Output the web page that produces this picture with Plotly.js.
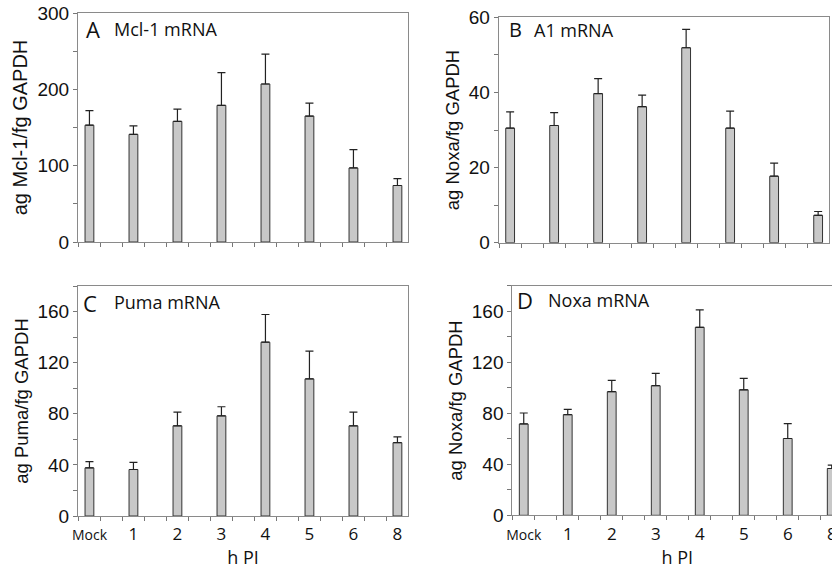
<!DOCTYPE html>
<html>
<head>
<meta charset="utf-8">
<script src="https://cdn.plot.ly/plotly-3.0.1.min.js"></script>
<style>
html,body{margin:0;padding:0;overflow:hidden;background:#fff;}
#chart{width:850px;height:569px;}
</style>
</head>
<body>
<div id="chart"></div>
<script>
// ---- data ----
var categories = ['Mock', '1', '2', '3', '4', '5', '6', '8'];
var mcl1 = [153, 141, 158, 179, 207, 165, 97, 74];
var mcl1Err = [19, 11, 16, 43, 39, 17, 24, 9];
var a1 = [30.5, 31.2, 39.7, 36.2, 51.9, 30.5, 17.7, 7.3];
var a1Err = [4.3, 3.4, 4.0, 3.1, 4.9, 4.5, 3.5, 1.0];
var puma = [37.7, 36.4, 70.6, 78.4, 136, 107.3, 70.6, 57.4];
var pumaErr = [4.9, 5.6, 10.7, 7.1, 21.7, 21.7, 10.7, 4.6];
var noxa = [71.6, 78.9, 96.9, 101.6, 147.4, 98.4, 60.2, 36.7];
var noxaErr = [8.6, 4.1, 8.8, 9.6, 13.6, 8.9, 11.7, 2.6];
var panelLetters = ['A', 'B', 'C', 'D'];
var panelNames = ['Mcl-1 mRNA', 'A1 mRNA', 'Puma mRNA', 'Noxa mRNA'];
var yTitles = ['ag Mcl-1/fg GAPDH', 'ag Noxa/fg GAPDH', 'ag Puma/fg GAPDH', 'ag Noxa/fg GAPDH'];
var xTitle = 'h PI';

var W = 850, H = 569;
var pos = categories.map(function(c, i){ return i; });
var tickText = categories.map(function(c){ return c === 'Mock' ? '<span style="font-size:14px">Mock</span>' : c; });

function barTrace(vals, errs, ax){
  return {
    type: 'bar', x: pos, y: vals, width: 0.2,
    xaxis: 'x' + ax, yaxis: 'y' + ax,
    marker: {color: '#c8c8c8', line: {color: '#333333', width: 1}},
    error_y: {type: 'data', symmetric: false, array: errs, arrayminus: errs.map(function(){return 0;}),
              color: '#222222', thickness: 1.2, width: 4},
    showlegend: false, hoverinfo: 'none'
  };
}

var data = [
  barTrace(mcl1, mcl1Err, ''),
  barTrace(a1, a1Err, '2'),
  barTrace(puma, pumaErr, '3'),
  barTrace(noxa, noxaErr, '4')
];
data[0].xaxis = 'x'; data[0].yaxis = 'y';

// pixel boxes [left, right, top, bottom]
var boxes = [[78, 408, 13, 242], [498.7, 828.7, 17.3, 242.7], [78, 408, 286, 516], [512.3, 842.3, 285.7, 515.3]];
var yRanges = [[0, 300], [0, 60], [0, 180], [0, 180]];
var yDticks = [100, 20, 40, 40];
var yMinor = [50, 10, 20, 20];
var yTitleSizes = [20, 18.5, 18.5, 18.5];
// panel label placement (px): letter left/centre-y, name left/centre-y, sizes
var letterPos = [[84, 29], [507, 29.5], [81, 302.5], [515, 300]];
var letterSizes = [22, 20, 22, 22];
var namePos = [[112, 29], [532, 29.5], [112, 302], [546, 300]];
var nameSizes = [18, 18, 18, 18];

var layout = {
  width: W, height: H,
  margin: {l: 0, r: 0, t: 0, b: 0},
  paper_bgcolor: '#fff', plot_bgcolor: '#fff',
  bargap: 0,
  annotations: []
};

for (var k = 0; k < 4; k++){
  var b = boxes[k];
  var sx = k === 0 ? '' : String(k + 1);
  var bottom = k >= 2;
  layout['xaxis' + sx] = {
    domain: [b[0] / W, b[1] / W],
    anchor: 'y' + sx,
    range: [-0.26, 7.24],
    tickmode: 'array', tickvals: pos, ticktext: tickText,
    ticks: '', showticklabels: bottom, ticklabelstandoff: 3,
    tickfont: {family: '"Open Sans", sans-serif', size: 17, color: '#111'},
    showline: true, linecolor: '#8a8a8a', linewidth: 1, mirror: true,
    showgrid: false, zeroline: false,
    minor: {tickmode: 'linear', tick0: 0.25, dtick: 0.5, ticks: 'outside', ticklen: 4, tickcolor: '#777', tickwidth: 1, showgrid: false},
    title: bottom ? {text: xTitle, font: {family: '"Open Sans", sans-serif', size: 18, color: '#111'}, standoff: 9} : {text: ''},
    fixedrange: true
  };
  layout['yaxis' + sx] = {
    domain: [1 - b[3] / H, 1 - b[2] / H],
    anchor: 'x' + sx,
    range: yRanges[k],
    tickmode: 'linear', tick0: 0, dtick: yDticks[k],
    ticks: 'outside', ticklen: 4, tickcolor: '#777', tickwidth: 1,
    minor: {tickmode: 'linear', tick0: 0, dtick: yMinor[k], ticks: 'outside', ticklen: 4, tickcolor: '#777', tickwidth: 1, showgrid: false},
    tickfont: {family: '"Liberation Sans", Arial, sans-serif', size: 19, color: '#111'},
    showline: true, linecolor: '#8a8a8a', linewidth: 1, mirror: true,
    showgrid: false, zeroline: false,
    title: {text: yTitles[k], font: {family: '"Liberation Sans", Arial, sans-serif', size: yTitleSizes[k], color: '#111'}, standoff: 4},
    fixedrange: true
  };
  layout.annotations.push({
    xref: 'paper', yref: 'paper',
    x: letterPos[k][0] / W, y: 1 - letterPos[k][1] / H,
    xanchor: 'left', yanchor: 'middle', showarrow: false,
    text: panelLetters[k],
    font: {family: '"Open Sans", sans-serif', size: letterSizes[k], color: '#111'}
  });
  layout.annotations.push({
    xref: 'paper', yref: 'paper',
    x: namePos[k][0] / W, y: 1 - namePos[k][1] / H,
    xanchor: 'left', yanchor: 'middle', showarrow: false,
    text: panelNames[k],
    font: {family: '"Open Sans", sans-serif', size: nameSizes[k], color: '#111'}
  });
}

Plotly.newPlot('chart', data, layout, {displayModeBar: false, staticPlot: true});
</script>
</body>
</html>
